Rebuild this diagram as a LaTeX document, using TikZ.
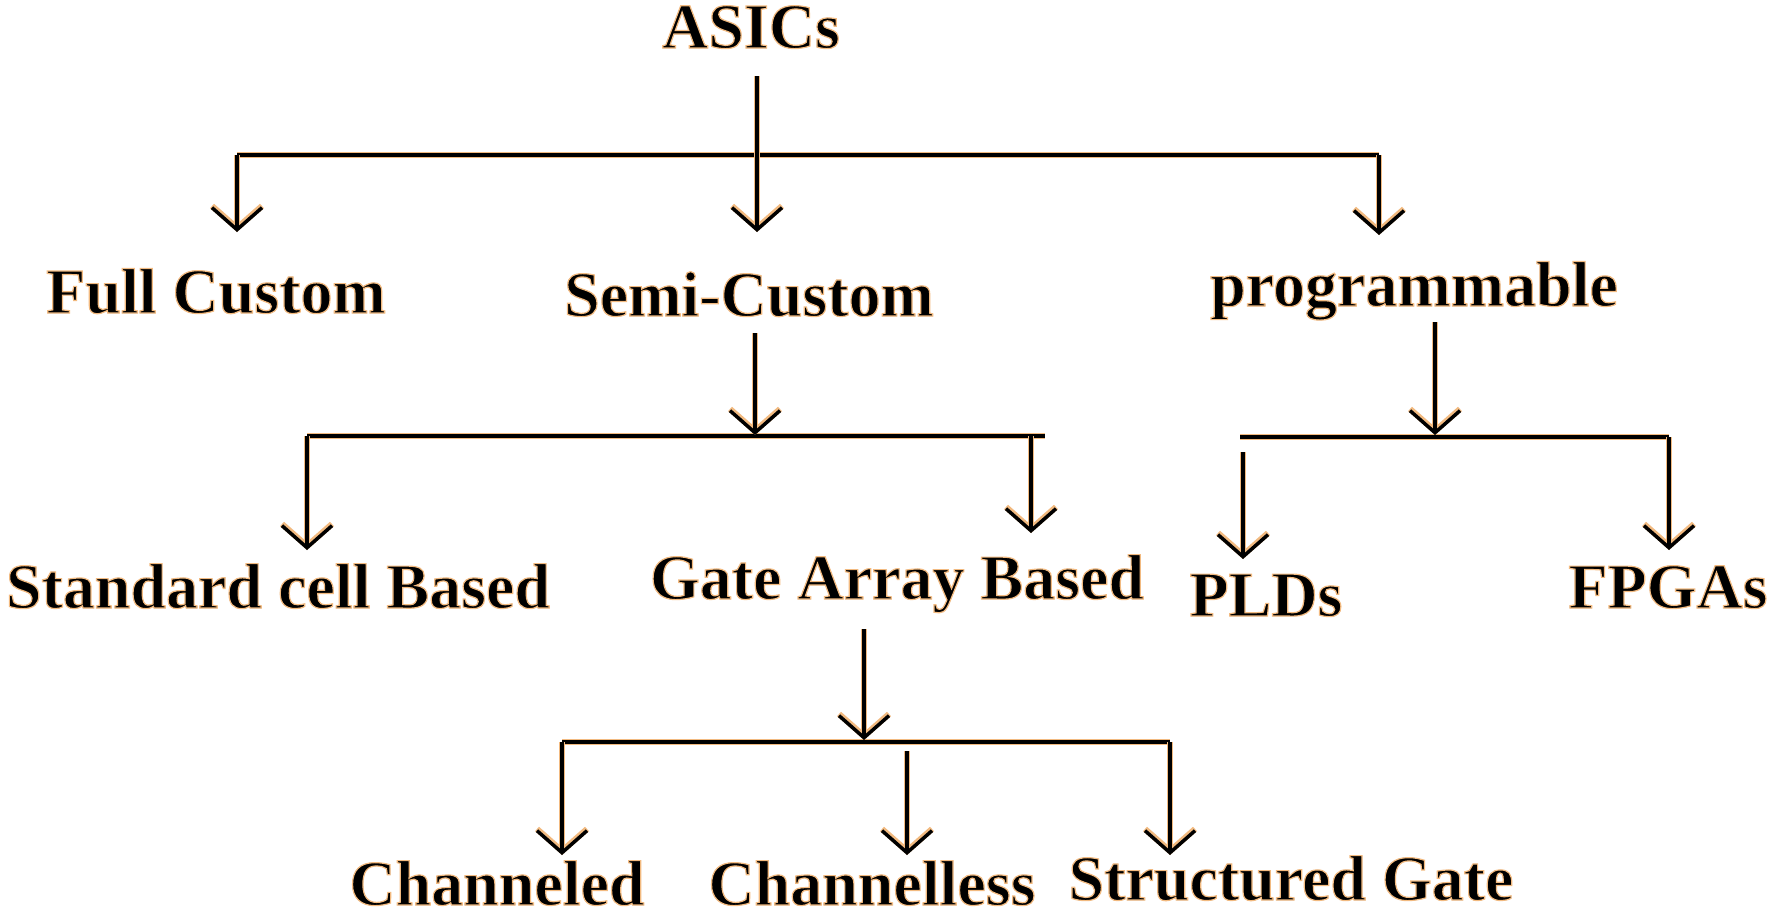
\documentclass[tikz,border=0pt]{standalone}
\usepackage{fontspec}
\setmainfont{Liberation Serif}
\usetikzlibrary{arrows.meta}
\definecolor{halo}{HTML}{F2BA80}
\tikzset{
  lbl/.style={anchor=base, inner sep=0pt, font=\bfseries\fontsize{64}{70}\selectfont},
  bar/.style={line width=3.5pt, draw=black, preaction={draw=halo, line width=6pt}},
  arr/.style={line width=3.5pt, draw=black, -{Straight Barb[length=22pt,width=50pt]},
    preaction={draw=halo, line width=6pt, -{Straight Barb[length=22pt,width=50pt]}}}
}
\newcommand{\hl}[1]{\special{pdf:code q 2 Tr 1.2 w 0.949 0.729 0.502 RG}#1\special{pdf:code Q}}
\begin{document}
\begin{tikzpicture}[x=1pt,y=-1pt]
\useasboundingbox (0,0) rectangle (1772,916);
\fill[white] (0,0) rectangle (1772,916);

% nodes
\node[lbl] (asics) at (751,48) {\hl{ASICs}};
\node[lbl] (full) at (216,313) {\hl{Full Custom}};
\node[lbl] (semi) at (749,316) {\hl{Semi-Custom}};
\node[lbl] (prog) at (1414,306) {\hl{programmable}};
\node[lbl] (std) at (278,608) {\hl{Standard cell Based}};
\node[lbl] (gate) at (897,599) {\hl{Gate Array Based}};
\node[lbl] (pld) at (1266,616) {\hl{PLDs}};
\node[lbl] (fpga) at (1668,608) {\hl{FPGAs}};
\node[lbl] (chd) at (497,905) {\hl{Channeled}};
\node[lbl] (chl) at (872,905) {\hl{Channelless}};
\node[lbl] (sg) at (1291,900) {\hl{Structured Gate}};

% coordinates
\coordinate (a0) at (757,76);
\coordinate (a1) at (757,232);
\coordinate (b1L) at (237,155);
\coordinate (b1R) at (1379,155);
\coordinate (t1L) at (237,232);
\coordinate (t1R) at (1379,235);

\coordinate (s0) at (755,333);
\coordinate (s1) at (755,435);
\coordinate (b2L) at (307,436);
\coordinate (b2R) at (1045,436);
\coordinate (b2r) at (1031,436);
\coordinate (t2L) at (307,550);
\coordinate (t2R) at (1031,533);

\coordinate (p0) at (1435,322);
\coordinate (p1) at (1435,435);
\coordinate (b3L) at (1240,437);
\coordinate (b3R) at (1669,437);
\coordinate (b3l) at (1243,452);
\coordinate (t3L) at (1243,559);
\coordinate (t3R) at (1669,550);

\coordinate (g0) at (864,629);
\coordinate (g1) at (864,740);
\coordinate (b4L) at (562,742);
\coordinate (b4R) at (1170,742);
\coordinate (b4m) at (907,751);
\coordinate (t4L) at (562,855);
\coordinate (t4M) at (907,855);
\coordinate (t4R) at (1170,855);

% connectors
\draw[bar] (b1L) -- (b1R);
\draw[arr] (a0) -- (a1);
\draw[arr] (b1L) -- (t1L);
\draw[arr] (b1R) -- (t1R);

\draw[bar] (b2L) -- (b2R);
\draw[arr] (s0) -- (s1);
\draw[arr] (b2L) -- (t2L);
\draw[arr] (b2r) -- (t2R);

\draw[bar] (b3L) -- (b3R);
\draw[arr] (p0) -- (p1);
\draw[arr] (b3l) -- (t3L);
\draw[arr] (b3R) -- (t3R);

\draw[bar] (b4L) -- (b4R);
\draw[arr] (g0) -- (g1);
\draw[arr] (b4L) -- (t4L);
\draw[arr] (b4m) -- (t4M);
\draw[arr] (b4R) -- (t4R);
\end{tikzpicture}
\end{document}
